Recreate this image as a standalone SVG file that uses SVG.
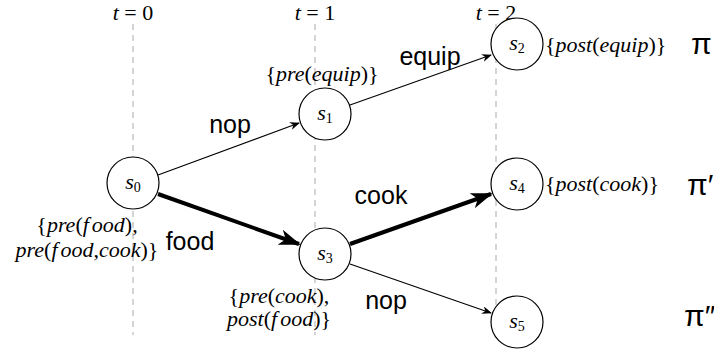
<svg xmlns="http://www.w3.org/2000/svg" width="714" height="353" viewBox="0 0 714 353">
<style>
.grid{stroke:#aaa;stroke-width:1;stroke-dasharray:6,5;fill:none}
.node{fill:#fff;stroke:#000;stroke-width:1.2}
.thin{stroke:#000;stroke-width:1.1;fill:none}
.thick{stroke:#000;stroke-width:4;fill:none}
.math{font-family:"Liberation Serif","Times New Roman",serif;font-size:22px;fill:#000}
.it{font-style:italic}
.sub{font-size:14px}
.lbl{font-family:"Liberation Sans",Arial,sans-serif;font-size:25px;fill:#000}
.pi{font-family:"Liberation Sans",Arial,sans-serif;font-size:30px;fill:#000}
</style>
<defs>
<marker id="ah" markerWidth="10" markerHeight="8" refX="9" refY="4" orient="auto" markerUnits="userSpaceOnUse">
<path d="M0,0 L10,4 L0,8 L3,4 Z" fill="#000"/>
</marker>
<marker id="ahb" markerWidth="22" markerHeight="16" refX="20" refY="8" orient="auto" markerUnits="userSpaceOnUse">
<path d="M0,0 L22,8 L0,16 L6,8 Z" fill="#000"/>
</marker>
</defs>
<g id="timeline">
<line class="grid" x1="133" y1="24" x2="133" y2="335"/>
<line class="grid" x1="315" y1="24" x2="315" y2="335"/>
<line class="grid" x1="496" y1="24" x2="496" y2="335"/>
<text class="math" x="133" y="20" text-anchor="middle"><tspan class="it">t</tspan> = 0</text>
<text class="math" x="315" y="20" text-anchor="middle"><tspan class="it">t</tspan> = 1</text>
<text class="math" x="496" y="20" text-anchor="middle"><tspan class="it">t</tspan> = 2</text>
</g>
<g id="connectors">
<line class="thin" x1="158" y1="175" x2="299" y2="123" marker-end="url(#ah)"/>
<line class="thin" x1="350" y1="105" x2="491" y2="55" marker-end="url(#ah)"/>
<line class="thick" x1="158" y1="194" x2="299" y2="244" marker-end="url(#ahb)"/>
<line class="thick" x1="350" y1="244" x2="491" y2="194" marker-end="url(#ahb)"/>
<line class="thin" x1="350" y1="264" x2="491" y2="313" marker-end="url(#ah)"/>
<text class="lbl" x="230" y="133" text-anchor="middle">nop</text>
<text class="lbl" x="430" y="65" text-anchor="middle">equip</text>
<text class="lbl" x="190" y="250" text-anchor="middle">food</text>
<text class="lbl" x="381" y="204" text-anchor="middle">cook</text>
<text class="lbl" x="386" y="309" text-anchor="middle">nop</text>
</g>
<g id="s0">
<circle class="node" cx="133" cy="183" r="26"/>
<text class="math" x="133" y="189" text-anchor="middle"><tspan class="it">s</tspan><tspan class="sub" dy="3">0</tspan></text>
<text class="math" x="87" y="232" text-anchor="middle">{<tspan class="it">pre</tspan>(<tspan class="it">f<tspan dx="3">ood</tspan></tspan>),</text>
<text class="math" x="87" y="257" text-anchor="middle"><tspan class="it">pre</tspan>(<tspan class="it">f<tspan dx="3">ood</tspan></tspan>,<tspan class="it">cook</tspan>)}</text>
</g>
<g id="s1">
<circle class="node" cx="325" cy="114" r="26"/>
<text class="math" x="325" y="120" text-anchor="middle"><tspan class="it">s</tspan><tspan class="sub" dy="3">1</tspan></text>
<text class="math" x="322" y="81" text-anchor="middle">{<tspan class="it">pre</tspan>(<tspan class="it">equip</tspan>)}</text>
</g>
<g id="s2">
<circle class="node" cx="517" cy="44" r="26"/>
<text class="math" x="517" y="50" text-anchor="middle"><tspan class="it">s</tspan><tspan class="sub" dy="3">2</tspan></text>
<text class="math" x="545" y="52">{<tspan class="it">post</tspan>(<tspan class="it">equip</tspan>)}</text>
</g>
<g id="s3">
<circle class="node" cx="325" cy="254" r="26"/>
<text class="math" x="325" y="260" text-anchor="middle"><tspan class="it">s</tspan><tspan class="sub" dy="3">3</tspan></text>
<text class="math" x="279" y="303" text-anchor="middle">{<tspan class="it">pre</tspan>(<tspan class="it">cook</tspan>),</text>
<text class="math" x="279" y="326" text-anchor="middle"><tspan class="it">post</tspan>(<tspan class="it">f<tspan dx="3">ood</tspan></tspan>)}</text>
</g>
<g id="s4">
<circle class="node" cx="517" cy="184" r="26"/>
<text class="math" x="517" y="190" text-anchor="middle"><tspan class="it">s</tspan><tspan class="sub" dy="3">4</tspan></text>
<text class="math" x="545" y="191">{<tspan class="it">post</tspan>(<tspan class="it">cook</tspan>)}</text>
</g>
<g id="s5">
<circle class="node" cx="517" cy="322" r="26"/>
<text class="math" x="517" y="328" text-anchor="middle"><tspan class="it">s</tspan><tspan class="sub" dy="3">5</tspan></text>
</g>
<g id="plans">
<text class="pi" x="691" y="54">π</text>
<text class="pi" x="687" y="195">π′</text>
<text class="pi" x="684" y="326">π″</text>
</g>
</svg>
